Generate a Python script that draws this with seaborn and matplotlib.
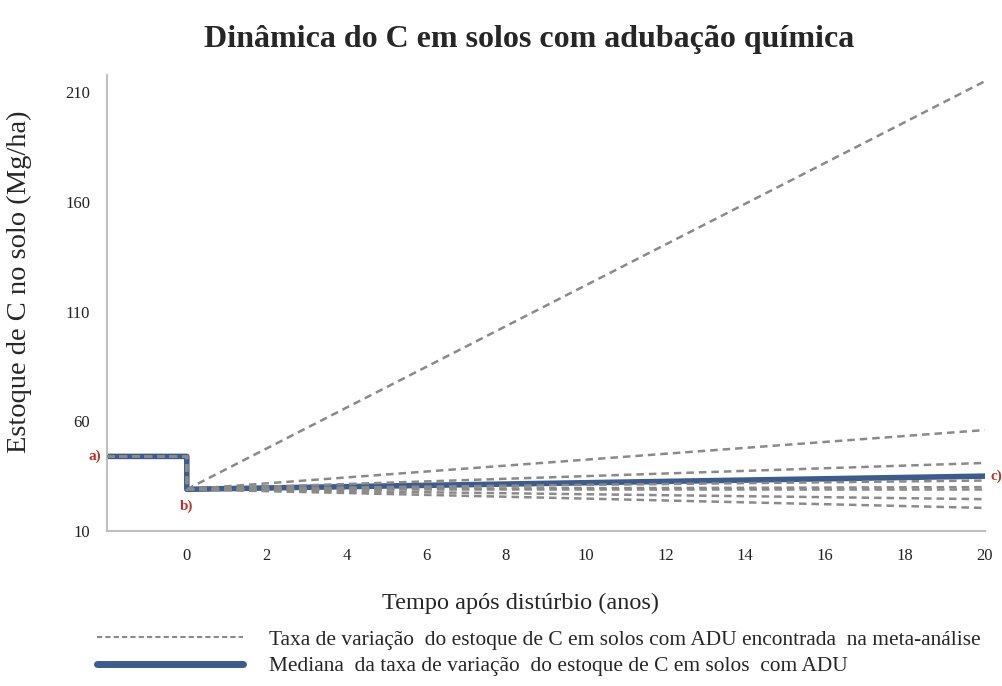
import numpy as np
import pandas as pd
import matplotlib
matplotlib.use("Agg")
import matplotlib.pyplot as plt
import seaborn as sns
from matplotlib.lines import Line2D

# ---- dados ----
anos = [-2, 0, 0, 20]                  # antes do distúrbio, distúrbio, após 20 anos
estoque_inicial = 44                   # a) estoque antes do distúrbio (Mg/ha)
estoque_disturbio = 29                 # b) estoque logo após o distúrbio
finais_meta = [215, 56, 41, 33, 30, 29, 24.5, 20.5]  # estoque aos 20 anos, cada taxa
final_mediana = 35                     # c) mediana aos 20 anos
y_ticks = [10, 60, 110, 160, 210]
x_ticks = [0, 2, 4, 6, 8, 10, 12, 14, 16, 18, 20]

titulo = "Dinâmica do C em solos com adubação química"
rotulo_y = "Estoque de C no solo (Mg/ha)"
rotulo_x = "Tempo após distúrbio (anos)"
leg_meta = "Taxa de variação  do estoque de C em solos com ADU encontrada  na meta-análise"
leg_mediana = "Mediana  da taxa de variação  do estoque de C em solos  com ADU"

sns.set_theme(style="white")
plt.rcParams["font.family"] = ["Liberation Serif", "DejaVu Serif"]

cinza = "#8a8a8a"
azul = "#3d5c8c"
vermelho = "#b8332e"

# tabela longa com todas as series
linhas = []
for i, fim in enumerate(finais_meta):
    for x, y in zip(anos, [estoque_inicial, estoque_inicial, estoque_disturbio, fim]):
        linhas.append({"ano": x, "estoque": y, "serie": f"meta{i}"})
df_meta = pd.DataFrame(linhas)
df_mediana = pd.DataFrame({
    "ano": anos,
    "estoque": [estoque_inicial, estoque_inicial, estoque_disturbio, final_mediana],
})

fig = plt.figure(figsize=(10.03, 6.86), dpi=100)
ax = fig.add_axes([0.1067, 0.226, 0.875, 0.665])

sns.lineplot(data=df_mediana, x="ano", y="estoque", sort=False, estimator=None,
             color=azul, linewidth=4, ax=ax, zorder=2)
for nome, grupo in df_meta.groupby("serie"):
    sns.lineplot(data=grupo, x="ano", y="estoque", sort=False, estimator=None,
                 color=cinza, linewidth=1.8, linestyle=(0, (3, 2)), ax=ax, zorder=3)

ax.set_xlim(-2, 20)
ax.set_ylim(10, 218)
ax.set_xticks(x_ticks)
ax.set_yticks(y_ticks)
ax.tick_params(axis="both", length=0, labelsize=12, colors="#222222")
ax.tick_params(axis="y", pad=12)
ax.tick_params(axis="x", pad=12)
for lado in ["top", "right"]:
    ax.spines[lado].set_visible(False)
for lado in ["left", "bottom"]:
    ax.spines[lado].set_color("#bfbfbf")
    ax.spines[lado].set_linewidth(1.5)

ax.set_xlabel(rotulo_x, fontsize=17.5)
ax.xaxis.set_label_coords(0.471, -0.135)
ax.set_ylabel(rotulo_y, fontsize=20.5)
ax.yaxis.set_label_coords(-0.085, 0.546)
fig.suptitle(titulo, fontsize=23, fontweight="bold", x=0.528, y=0.963)

# marcadores a), b), c)
ax.annotate("a)", (-2, estoque_inicial), xytext=(-4, 0), textcoords="offset points",
            ha="right", va="center", color=vermelho, fontsize=11, fontweight="bold",
            annotation_clip=False)
ax.annotate("b)", (0, estoque_disturbio), xytext=(0, -12), textcoords="offset points",
            ha="center", va="center", color=vermelho, fontsize=11, fontweight="bold",
            annotation_clip=False)
ax.annotate("c)", (20, final_mediana), xytext=(4, 0), textcoords="offset points",
            ha="left", va="center", color=vermelho, fontsize=11, fontweight="bold",
            annotation_clip=False)

handles = [
    Line2D([], [], color=cinza, linewidth=1.5, linestyle=(0, (2.5, 1.5))),
    Line2D([], [], color=azul, linewidth=5),
]
ax.legend(handles, [leg_meta, leg_mediana], loc="upper left",
          bbox_to_anchor=(0.078, 0.11), bbox_transform=fig.transFigure,
          frameon=False, fontsize=15.4, handlelength=6.8, handletextpad=1.2,
          labelspacing=0.3)

fig.savefig("out.png", dpi=100)
